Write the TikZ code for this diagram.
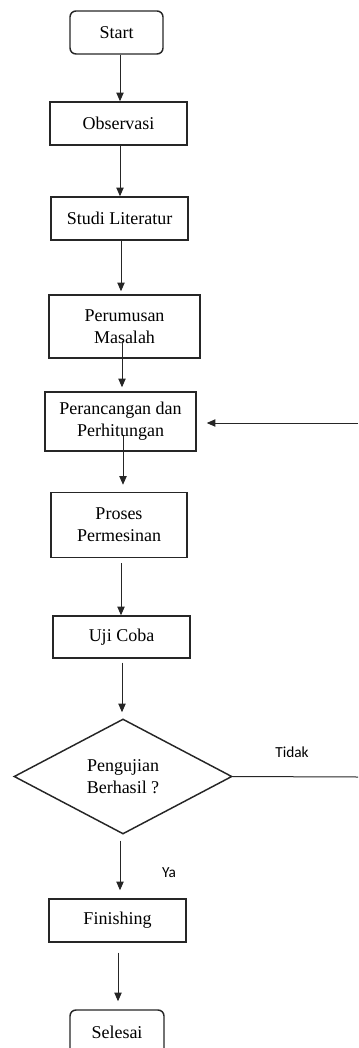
\documentclass[tikz,border=0pt]{standalone}
\usepackage{fontspec}
\setmainfont{Liberation Serif}
\newfontfamily\carlito{Carlito}
\usetikzlibrary{arrows.meta, shapes.geometric}

\begin{document}
\begin{tikzpicture}[
    x=0.75pt, y=-0.75pt,
    box/.style={draw=black!85, line width=1.1pt, inner sep=0pt, align=center,
                font=\fontsize{13.5}{16.5}\selectfont},
    terminal/.style={box, rounded corners=4.5pt},
    decision/.style={box, diamond},
    flow/.style={-{Triangle[length=6.5pt, width=5.5pt]},
                 line width=0.75pt, black!85},
    branch/.style={font=\carlito\fontsize{11.5}{14}\selectfont},
  ]

  \def\px{0.75pt}   % one pixel of the reference

  \useasboundingbox (0,0) rectangle (358,1048);

  % =========================================================
  %  steps
  % =========================================================
  \node[terminal, minimum width=93*\px, minimum height=43*\px]
    (start) at (116.5,32.5) {Start};
  \node[box, minimum width=137*\px, minimum height=43*\px]
    (obs) at (118.5,123.5) {Observasi};
  \node[box, minimum width=137*\px, minimum height=43*\px]
    (studi) at (119.5,218.5) {Studi Literatur};
  \node[box, minimum width=151*\px, minimum height=63*\px]
    (rumus) at (124.5,326.5) {Perumusan\\Masalah};
  \node[box, minimum width=151*\px, minimum height=59*\px]
    (ranc) at (120.5,421.5) {Perancangan dan\\Perhitungan};
  \node[box, minimum width=136*\px, minimum height=65*\px]
    (proses) at (119,525) {Proses\\Permesinan};
  \node[box, minimum width=137*\px, minimum height=42*\px]
    (uji) at (121.5,637) {Uji Coba};
  \node[decision, minimum width=218*\px, minimum height=115*\px]
    (dec) at (123,776.5) {Pengujian\\Berhasil ?};
  \node[box, minimum width=137*\px, minimum height=43*\px]
    (fin) at (117.5,920.5) {Finishing};
  \node[terminal, minimum width=94*\px, minimum height=44*\px]
    (sel) at (117,1032) {Selesai};

  % =========================================================
  %  main flow
  % =========================================================
  \draw[flow] (start.south -| 120,0) -- (obs.north -| 120,0);
  \draw[flow] (obs.south -| 120,0) -- (studi.north -| 120,0);
  \draw[flow, shorten >=2.25pt] (studi.south -| 121,0) -- (rumus.north -| 121,0);
  \draw[flow, shorten <=-13.5pt, shorten >=3pt]
    (rumus.south -| 122,0) -- (ranc.north -| 122,0);
  \draw[flow, shorten <=-12pt, shorten >=5.25pt]
    (ranc.south -| 123,0) -- (proses.north -| 123,0);
  \draw[flow, shorten <=3.75pt] (proses.south -| 121,0) -- (uji.north -| 121,0);
  \draw[flow, shorten <=3pt, shorten >=4.5pt]
    (uji.south -| 122,0) -- (dec.north -| 122,0);
  \draw[flow, shorten <=4.5pt, shorten >=6pt]
    (dec.south -| 120,0) -- (fin.north -| 120,0);
  \draw[flow, shorten <=7.5pt, shorten >=6pt]
    (fin.south -| 118,0) -- (sel.north -| 118,0);

  % =========================================================
  %  loop back (Tidak)
  % =========================================================
  \coordinate (tidak) at (358,777);
  \coordinate (back) at (358,423);
  \draw[line width=0.75pt, black!85] (dec.east) -- (tidak);
  \draw[flow, shorten >=7.5pt] (back) -- (ranc.east |- back);

  % labels
  \node[branch] (ltidak) at (292,752) {Tidak};
  \node[branch] (lya) at (169,873) {Ya};

\end{tikzpicture}
\end{document}
